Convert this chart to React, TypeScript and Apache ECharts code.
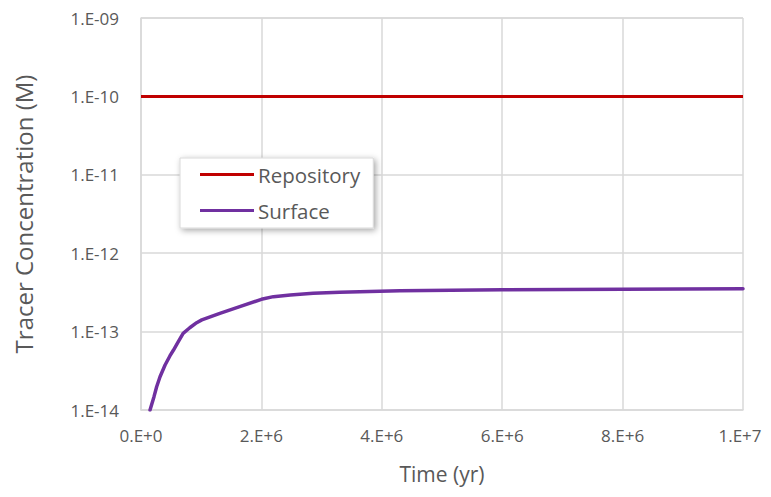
import React, { useEffect, useRef } from "react";
import * as echarts from "echarts";

// Time in years, concentrations in mol/L
const repositoryTime = [0, 10000000];
const repositoryConc = [1e-10, 1e-10];

const surfaceTime = [
  150000, 216000, 260000, 316000, 400000, 480000, 540000, 620000, 700000, 810000, 925000, 1010000,
  1310000, 1640000, 2000000, 2200000, 2480000, 2860000, 3300000, 4300000, 6000000, 8000000, 10000000,
];
const surfaceConc = [
  1e-14, 1.48e-14, 1.98e-14, 2.66e-14, 3.75e-14, 4.89e-14, 5.82e-14, 7.43e-14, 9.5e-14, 1.12e-13, 1.3e-13, 1.41e-13,
  1.71e-13, 2.08e-13, 2.58e-13, 2.79e-13, 2.93e-13, 3.08e-13, 3.17e-13, 3.33e-13, 3.42e-13, 3.48e-13, 3.52e-13,
];

const xTicks = [0, 2e6, 4e6, 6e6, 8e6, 1e7];

const FONT = "Open Sans";
const GRAY = "#595959";
const GRID_GRAY = "#d9d9d9";

// Excel-style scientific labels: 2.E+6, 1.E-10, 1.E-09
function sci(v: number, pad: boolean): string {
  if (v === 0) return "0.E+0";
  const exp = Math.floor(Math.round(Math.log10(Math.abs(v)) * 1e6) / 1e6);
  const mant = Math.round(v / Math.pow(10, exp));
  const sign = exp < 0 ? "-" : "+";
  const absExp = Math.abs(exp);
  const expStr = pad && absExp < 10 ? "0" + absExp : String(absExp);
  return `${mant}.E${sign}${expStr}`;
}

export default function App() {
  const ref = useRef<HTMLDivElement>(null);

  useEffect(() => {
    if (!ref.current) return;
    const chart = echarts.init(ref.current, undefined, { renderer: "svg" });
    const lastX = xTicks[xTicks.length - 1];
    chart.setOption({
      animation: false,
      backgroundColor: "#ffffff",
      grid: {
        left: 141,
        right: 28,
        top: 18,
        bottom: 87,
        containLabel: false,
        outerBoundsMode: "none",
      },
      legend: {
        left: 180,
        top: 158,
        orient: "vertical",
        icon: "rect",
        itemWidth: 54,
        itemHeight: 3,
        itemGap: 15,
        padding: [6, 13, 7, 20],
        backgroundColor: "#ffffff",
        borderColor: GRID_GRAY,
        borderWidth: 1,
        shadowColor: "rgba(0,0,0,0.35)",
        shadowBlur: 6,
        shadowOffsetX: 2,
        shadowOffsetY: 2,
        textStyle: { color: GRAY, fontFamily: FONT, fontSize: 20.5, padding: [0, 0, 0, -1] },
        data: ["Repository", "Surface"],
      },
      xAxis: {
        type: "value",
        min: xTicks[0],
        max: lastX,
        interval: xTicks[1] - xTicks[0],
        name: "Time (yr)",
        nameLocation: "middle",
        nameGap: 53,
        nameTextStyle: { color: GRAY, fontFamily: FONT, fontSize: 21 },
        axisLine: { show: true, lineStyle: { color: GRID_GRAY, width: 1.5 } },
        axisTick: { show: false },
        axisLabel: {
          color: GRAY,
          fontFamily: FONT,
          fontSize: 17,
          margin: 17,
          formatter: (v: number) => (v === lastX ? `{last|${sci(v, false)}}` : sci(v, false)),
          rich: {
            last: { color: GRAY, fontFamily: FONT, fontSize: 17, padding: [0, 6, 0, 0] },
          },
        },
        splitLine: { show: true, lineStyle: { color: GRID_GRAY, width: 1.5 } },
      },
      yAxis: {
        type: "log",
        min: 1e-14,
        max: 1e-9,
        logBase: 10,
        name: "Tracer Concentration (M)",
        nameLocation: "middle",
        nameGap: 106,
        nameTextStyle: { color: GRAY, fontFamily: FONT, fontSize: 24 },
        axisLine: { show: true, lineStyle: { color: GRID_GRAY, width: 1.5 } },
        axisTick: { show: false },
        axisLabel: {
          color: GRAY,
          fontFamily: FONT,
          fontSize: 17,
          margin: 22,
          formatter: (v: number) => sci(v, true),
        },
        splitLine: { show: true, lineStyle: { color: GRID_GRAY, width: 1.5 } },
        minorSplitLine: { show: false },
      },
      series: [
        {
          name: "Repository",
          type: "line",
          data: repositoryTime.map((t, i) => [t, repositoryConc[i]]),
          showSymbol: false,
          symbol: "none",
          lineStyle: { color: "#C00000", width: 3 },
          itemStyle: { color: "#C00000" },
        },
        {
          name: "Surface",
          type: "line",
          data: surfaceTime.map((t, i) => [t, surfaceConc[i]]),
          showSymbol: false,
          symbol: "none",
          lineStyle: { color: "#7030A0", width: 3.5, join: "round", cap: "round" },
          itemStyle: { color: "#7030A0" },
        },
      ],
    });
    return () => chart.dispose();
  }, []);

  return <div ref={ref} style={{ width: 771, height: 497, margin: -8 }} />;
}
